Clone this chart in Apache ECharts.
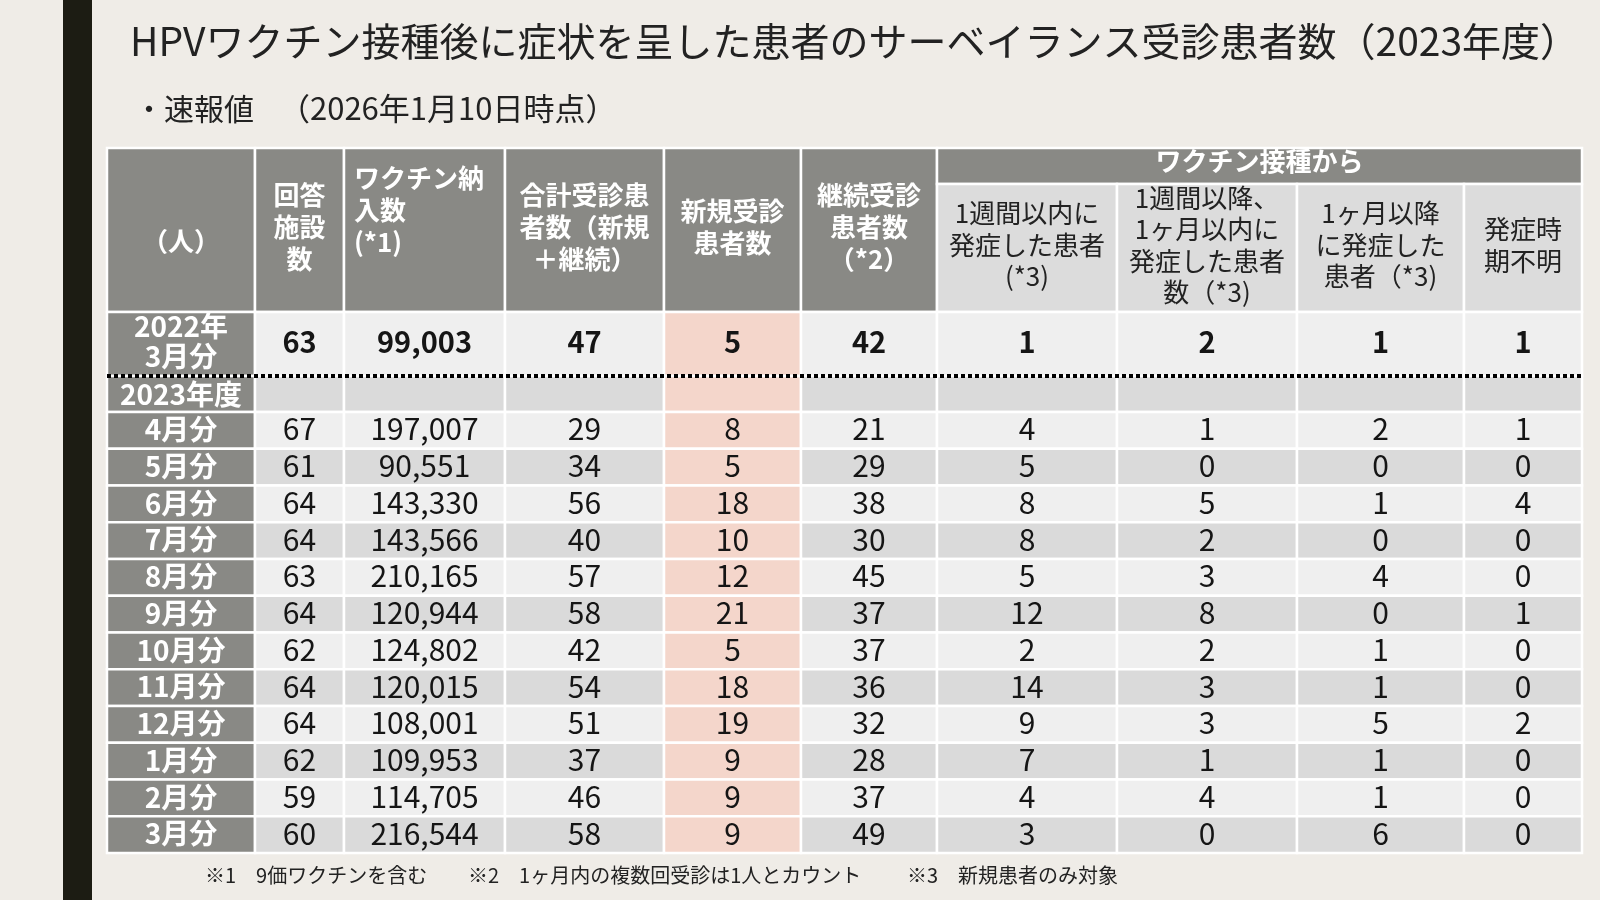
<!DOCTYPE html>
<html lang="ja">
<head>
    <meta charset="UTF-8">
    <title>HPVワクチン サーベイランス受診患者数</title>
    <script type="text/javascript" src="https://cdn.jsdelivr.net/npm/echarts@6/dist/echarts.min.js"></script>
    <style>
        html, body { margin: 0; padding: 0; background: #efece7; }
    </style>
</head>
<body>
<div id="main" style="width:1600px;height:900px;"></div>
<script>
    // --- data ---
    const months = ['4月分', '5月分', '6月分', '7月分', '8月分', '9月分', '10月分', '11月分', '12月分', '1月分', '2月分', '3月分'];
    const facilities = [67, 61, 64, 64, 63, 64, 62, 64, 64, 62, 59, 60];
    const vaccineDelivered = [197007, 90551, 143330, 143566, 210165, 120944, 124802, 120015, 108001, 109953, 114705, 216544];
    const totalPatients = [29, 34, 56, 40, 57, 58, 42, 54, 51, 37, 46, 58];
    const newPatients = [8, 5, 18, 10, 12, 21, 5, 18, 19, 9, 9, 9];
    const continuingPatients = [21, 29, 38, 30, 45, 37, 37, 36, 32, 28, 37, 49];
    const within1Week = [4, 5, 8, 8, 5, 12, 2, 14, 9, 7, 4, 3];
    const week1ToMonth1 = [1, 0, 5, 2, 3, 8, 2, 3, 3, 1, 4, 0];
    const after1Month = [2, 0, 1, 0, 4, 0, 1, 1, 5, 1, 1, 6];
    const onsetUnknown = [1, 0, 4, 0, 0, 1, 0, 0, 2, 0, 0, 0];

    const prevLabel = '2022年\n3月分';
    const prevValues = [63, 99003, 47, 5, 42, 1, 2, 1, 1];
    const fyLabel = '2023年度';

    const mainHeaders = ['（人）', '回答\n施設\n数', 'ワクチン納\n入数\n(*1)', '合計受診患\n者数（新規\n＋継続）', '新規受診\n患者数', '継続受診\n患者数\n（*2）'];
    const groupHeader = 'ワクチン接種から';
    const subHeaders = ['1週間以内に\n発症した患者\n(*3)', '1週間以降、\n1ヶ月以内に\n発症した患者\n数（*3)', '1ヶ月以降\nに発症した\n患者（*3)', '発症時\n期不明'];

    const titleText = 'HPVワクチン接種後に症状を呈した患者のサーベイランス受診患者数（2023年度）';
    const subtitleHead = '・速報値';
    const subtitleDate = '（2026年1月10日時点）';
    const notes = ['※1　9価ワクチンを含む', '※2　1ヶ月内の複数回受診は1人とカウント', '※3　新規患者のみ対象'];

    // --- layout (table units = px) ---
    const colEdges = [0, 148, 237, 398, 557, 694, 830, 1010, 1190, 1357, 1475];
    const rowEdges = [0, 36, 164, 228, 264];
    for (let k = 1; k <= months.length; k++) rowEdges.push(264 + k * 36.75);
    const PINK_COL = 4;

    const FONT = '"Noto Sans CJK JP", "Noto Sans", sans-serif';
    const colors = {
        head: '#898985', sub: '#dcdcdc', light: '#efefef', dark: '#dadada', pink: '#f4d6cb'
    };

    // build cell list from the arrays
    let cells = [];
    mainHeaders.forEach((t, i) => {
        cells.push({col: i, row: 0, cs: 1, rs: 2, text: t, kind: 'head', left: i === 2, dy: i === 0 ? 14 : 0});
    });
    cells.push({col: 6, row: 0, cs: 4, rs: 1, text: groupHeader, kind: 'head', dy: -2});
    subHeaders.forEach((t, i) => {
        cells.push({col: 6 + i, row: 1, cs: 1, rs: 1, text: t, kind: 'sub', dy: -3});
    });
    cells.push({col: 0, row: 2, cs: 1, rs: 1, text: prevLabel, kind: 'label', dy: -3});
    prevValues.forEach((v, i) => {
        cells.push({col: i + 1, row: 2, cs: 1, rs: 1, text: v.toLocaleString('en-US'), kind: 'light', bold: true, dy: -2});
    });
    cells.push({col: 0, row: 3, cs: 1, rs: 1, text: fyLabel, kind: 'label'});
    for (let c = 1; c < 10; c++) cells.push({col: c, row: 3, cs: 1, rs: 1, text: '', kind: 'dark'});
    const monthCols = [facilities, vaccineDelivered, totalPatients, newPatients, continuingPatients,
        within1Week, week1ToMonth1, after1Month, onsetUnknown];
    months.forEach((m, r) => {
        cells.push({col: 0, row: 4 + r, cs: 1, rs: 1, text: m, kind: 'label', dy: -1});
        monthCols.forEach((arr, i) => {
            cells.push({col: i + 1, row: 4 + r, cs: 1, rs: 1, text: arr[r].toLocaleString('en-US'),
                kind: r % 2 === 0 ? 'light' : 'dark', dy: -1.5});
        });
    });

    function renderCell(params, api) {
        const c = cells[params.dataIndex];
        const p0 = api.coord([colEdges[c.col], rowEdges[c.row]]);
        const p1 = api.coord([colEdges[c.col + c.cs], rowEdges[c.row + c.rs]]);
        const x = Math.min(p0[0], p1[0]), y = Math.min(p0[1], p1[1]);
        const w = Math.abs(p1[0] - p0[0]), h = Math.abs(p1[1] - p0[1]);
        let fill = colors[c.kind];
        if (c.kind === 'label') fill = colors.head;
        if (c.col === PINK_COL && c.row >= 2) fill = colors.pink;

        let txt = {
            text: c.text, fill: '#151515', fontFamily: FONT, fontSize: 30, fontWeight: 'normal',
            align: 'center', verticalAlign: 'middle', x: x + w / 2, y: y + h / 2 + (c.dy || 0), lineHeight: 31
        };
        if (c.kind === 'head') {
            txt.fill = '#ffffff'; txt.fontWeight = 'bold'; txt.fontSize = 26; txt.lineHeight = 32;
            txt.y -= 3;
        } else if (c.kind === 'sub') {
            txt.fill = '#222222'; txt.fontSize = 26; txt.lineHeight = 31.5;
        } else if (c.kind === 'label') {
            txt.fill = '#ffffff'; txt.fontWeight = 'bold'; txt.fontSize = 28; txt.lineHeight = 30;
        } else if (c.bold) {
            txt.fontWeight = 'bold'; txt.fontSize = 29;
        }
        if (c.left) {
            txt.align = 'left'; txt.verticalAlign = 'top'; txt.x = x + 10; txt.y = y + 14;
        }
        return {
            type: 'group',
            children: [
                {type: 'rect', shape: {x: x, y: y, width: w, height: h},
                    style: {fill: fill, stroke: '#ffffff', lineWidth: 2.5}},
                {type: 'text', style: txt}
            ]
        };
    }

    const plain = (size) => ({fontSize: size, fontWeight: 'normal', color: '#222', fontFamily: FONT});

    let myChart = echarts.init(document.getElementById('main'));
    let option = {
        backgroundColor: '#efece7',
        animation: false,
        title: [
            {text: titleText, left: 130, top: 22, padding: 0, textStyle: plain(39)},
            {text: subtitleHead, left: 134, top: 94, padding: 0, textStyle: plain(30)},
            {text: subtitleDate, left: 279, top: 93, padding: 0, textStyle: plain(31)},
            {text: notes[0], left: 205, top: 865, padding: 0, textStyle: plain(20)},
            {text: notes[1], left: 468, top: 865, padding: 0, textStyle: plain(20)},
            {text: notes[2], left: 907, top: 865, padding: 0, textStyle: plain(20)}
        ],
        graphic: [
            {type: 'rect', left: 63, top: 0, shape: {width: 29, height: 900}, style: {fill: '#1c1c13'}}
        ],
        grid: {left: 107, top: 148, right: 18, bottom: 47},
        xAxis: {type: 'value', min: 0, max: colEdges[colEdges.length - 1], show: false},
        yAxis: {type: 'value', min: 0, max: rowEdges[rowEdges.length - 1], inverse: true, show: false},
        series: [{
            type: 'custom',
            renderItem: renderCell,
            clip: false,
            data: cells.map(c => [c.col, c.row]),
            silent: true,
            markLine: {
                silent: true,
                symbol: 'none',
                label: {show: false},
                lineStyle: {color: '#000000', width: 4, type: [4, 3], cap: 'butt'},
                data: [{yAxis: rowEdges[3]}]
            }
        }]
    };
    myChart.setOption(option);
</script>
</body>
</html>
